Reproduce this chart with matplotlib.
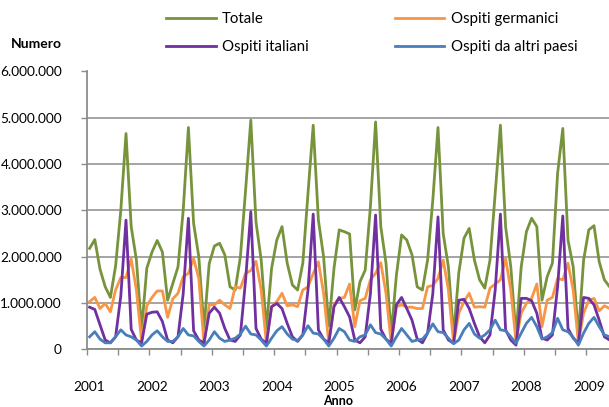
import matplotlib
matplotlib.use("Agg")
import matplotlib.pyplot as plt
from matplotlib.ticker import FuncFormatter, FixedLocator

# Monthly values (millions), Jan 2001 .. May 2009
totale = [
    2.18, 2.37, 1.73, 1.35, 1.12, 1.80, 3.00, 4.66, 2.65, 1.93, 0.42, 1.75,
    2.10, 2.35, 2.10, 1.06, 1.42, 1.78, 3.00, 4.79, 2.72, 2.00, 0.45, 1.85,
    2.23, 2.29, 2.04, 1.35, 1.28, 2.00, 3.44, 4.95, 2.75, 1.93, 0.45, 1.75,
    2.36, 2.65, 1.86, 1.39, 1.28, 1.86, 3.37, 4.84, 2.79, 2.00, 0.50, 1.75,
    2.58, 2.54, 2.49, 0.85, 1.46, 1.71, 3.08, 4.91, 2.65, 1.86, 0.33, 1.60,
    2.47, 2.36, 2.04, 1.35, 1.28, 1.93, 3.22, 4.79, 2.50, 1.78, 0.30, 1.65,
    2.40, 2.61, 1.93, 1.50, 1.32, 1.93, 3.37, 4.84, 2.65, 1.78, 0.30, 1.78,
    2.54, 2.83, 2.65, 1.06, 1.57, 1.86, 3.80, 4.77, 2.36, 1.78, 0.30, 1.93,
    2.58, 2.67, 1.89, 1.50, 1.35,
]
germanici = [
    1.03, 1.12, 0.88, 0.99, 0.81, 1.28, 1.55, 1.55, 1.95, 1.28, 0.17, 0.94,
    1.12, 1.26, 1.26, 0.69, 1.09, 1.21, 1.57, 1.64, 1.96, 1.53, 0.13, 0.96,
    0.96, 1.06, 0.96, 0.88, 1.35, 1.32, 1.64, 1.70, 1.90, 1.28, 0.13, 0.92,
    1.03, 1.21, 0.94, 0.96, 0.92, 1.28, 1.35, 1.64, 1.89, 1.21, 0.13, 0.96,
    1.10, 1.12, 1.41, 0.49, 1.05, 1.10, 1.50, 1.64, 1.87, 1.21, 0.13, 0.92,
    0.96, 0.91, 0.91, 0.88, 0.88, 1.35, 1.38, 1.53, 1.93, 1.28, 0.14, 0.78,
    1.03, 1.21, 0.91, 0.92, 0.91, 1.32, 1.41, 1.50, 1.96, 1.28, 0.17, 0.78,
    0.99, 1.10, 1.41, 0.49, 1.06, 1.12, 1.53, 1.50, 1.86, 1.28, 0.14, 0.78,
    1.06, 1.10, 0.83, 0.94, 0.88,
]
italiani = [
    0.91, 0.86, 0.53, 0.20, 0.14, 0.27, 1.15, 2.79, 0.43, 0.20, 0.14, 0.76,
    0.80, 0.81, 0.60, 0.20, 0.14, 0.27, 1.20, 2.83, 0.40, 0.20, 0.14, 0.78,
    0.91, 0.78, 0.45, 0.20, 0.17, 0.31, 1.50, 2.97, 0.45, 0.22, 0.13, 0.92,
    0.99, 0.88, 0.56, 0.27, 0.17, 0.31, 1.28, 2.92, 0.42, 0.22, 0.14, 0.92,
    1.12, 0.92, 0.70, 0.20, 0.14, 0.27, 1.20, 2.90, 0.43, 0.22, 0.13, 0.96,
    1.12, 0.88, 0.63, 0.22, 0.14, 0.35, 1.20, 2.86, 0.42, 0.20, 0.13, 1.06,
    1.08, 0.88, 0.56, 0.27, 0.14, 0.31, 1.28, 2.92, 0.42, 0.20, 0.09, 1.10,
    1.10, 1.05, 0.78, 0.24, 0.20, 0.31, 1.35, 2.88, 0.45, 0.24, 0.13, 1.12,
    1.10, 0.96, 0.63, 0.27, 0.20,
]
altri = [
    0.27, 0.38, 0.22, 0.14, 0.14, 0.27, 0.42, 0.31, 0.27, 0.20, 0.07, 0.17,
    0.31, 0.40, 0.27, 0.17, 0.17, 0.27, 0.45, 0.31, 0.29, 0.17, 0.07, 0.20,
    0.38, 0.24, 0.17, 0.20, 0.24, 0.33, 0.50, 0.33, 0.31, 0.20, 0.07, 0.24,
    0.40, 0.49, 0.33, 0.22, 0.19, 0.31, 0.51, 0.35, 0.33, 0.22, 0.07, 0.24,
    0.45, 0.38, 0.20, 0.17, 0.27, 0.31, 0.53, 0.36, 0.33, 0.22, 0.07, 0.27,
    0.45, 0.31, 0.17, 0.20, 0.22, 0.35, 0.55, 0.38, 0.36, 0.24, 0.12, 0.20,
    0.42, 0.56, 0.33, 0.24, 0.31, 0.42, 0.63, 0.42, 0.40, 0.27, 0.13, 0.35,
    0.56, 0.69, 0.49, 0.22, 0.27, 0.36, 0.67, 0.42, 0.38, 0.26, 0.09, 0.35,
    0.56, 0.69, 0.49, 0.31, 0.27,
]
anni = ["2001", "2002", "2003", "2004", "2005", "2006", "2007", "2008", "2009"]
y_ticks = [0, 1e6, 2e6, 3e6, 4e6, 5e6, 6e6]

plt.rcParams['font.family'] = ['Lato', 'DejaVu Sans']

W, H = 609, 407
fig = plt.figure(figsize=(W / 100, H / 100), dpi=100)
ax_left, ax_right, ax_bot, ax_top = 87, 609, 349.3, 71.5
ax = fig.add_axes([ax_left / W, 1 - ax_bot / H, (ax_right - ax_left) / W, (ax_bot - ax_top) / H])

x = list(range(len(totale)))
series = [
    ("Totale", totale, "#77933C"),
    ("Ospiti germanici", germanici, "#F79646"),
    ("Ospiti italiani", italiani, "#7030A0"),
    ("Ospiti da altri paesi", altri, "#4A7EBB"),
]
lines = {}
for name, vals, col in series:
    ln, = ax.plot(x, [v * 1e6 for v in vals], color=col, lw=2.0, label=name,
                  solid_joinstyle='round', clip_on=True)
    lines[name] = ln

month_px = 5.2
ax.set_xlim(-0.5, -0.5 + (ax_right - ax_left) / month_px)
ax.set_ylim(0, 6e6)

grid_c = "#8C8C8C"
ax.set_yticks(y_ticks)
ax.yaxis.set_major_formatter(FuncFormatter(lambda v, p: f"{int(round(v)):,}".replace(",", ".")))
ax.grid(axis='y', color=grid_c, lw=1.1)
ax.set_axisbelow(True)

ax.xaxis.set_major_locator(FixedLocator([12 * i for i in range(len(anni))]))
ax.set_xticklabels(anni)
ax.xaxis.set_minor_locator(FixedLocator([-0.5 + 6 * i for i in range(20)]))
ax.tick_params(axis='x', which='major', length=0, pad=23, labelsize=9.8)
ax.tick_params(axis='x', which='minor', length=4, width=1, color=grid_c, direction='out')
ax.tick_params(axis='y', length=4, width=1, color=grid_c, pad=14, labelsize=9.8)

for s in ['top', 'right']:
    ax.spines[s].set_visible(False)
for s in ['left', 'bottom']:
    ax.spines[s].set_color(grid_c)
    ax.spines[s].set_linewidth(1.3)

fig.text(338 / W, 1 - 401 / H, "Anno", ha='center', va='center', fontsize=9, fontweight='bold')
fig.text(36 / W, 1 - 44 / H, "Numero", ha='center', va='center', fontsize=10, fontweight='bold')

order = ["Totale", "Ospiti italiani", "Ospiti germanici", "Ospiti da altri paesi"]
fig.legend([lines[n] for n in order], order, ncol=2, loc='upper left',
           bbox_to_anchor=(166 / W, 1 - 12 / H), frameon=False, fontsize=10.8,
           handlelength=3.3, handletextpad=0.42, columnspacing=5.75,
           labelspacing=0.95, borderpad=0, borderaxespad=0)

fig.savefig("out.png", dpi=100)
